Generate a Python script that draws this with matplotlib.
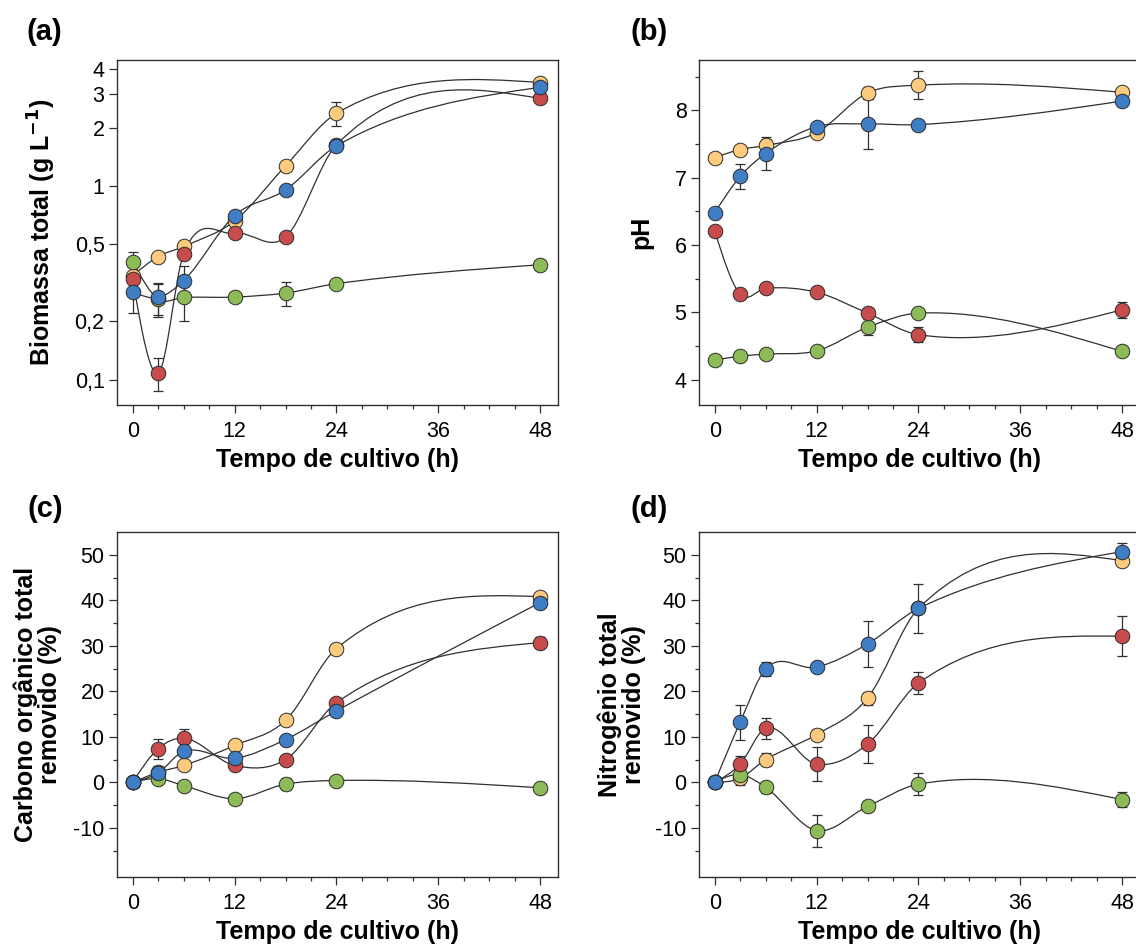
import numpy as np
import matplotlib
matplotlib.use('agg')
from matplotlib import pyplot as plt
from matplotlib.path import Path
from matplotlib.patches import PathPatch
from matplotlib.ticker import MultipleLocator, FixedLocator, FixedFormatter, NullLocator

plt.rcParams['font.family'] = ['Liberation Sans', 'DejaVu Sans']
plt.rcParams['axes.unicode_minus'] = False

# tempo de cultivo (h)
t = [0, 3, 6, 12, 18, 24, 48]

# (a) biomassa total (g/L)
bio_yellow = [0.344, 0.432, 0.487, 0.66, 1.27, 2.37, 3.42]
bio_yellow_err = [0.0, 0.02, 0.015, 0.02, 0.08, 0.33, 0.05]
bio_green = [0.407, 0.261, 0.266, 0.267, 0.280, 0.313, 0.392]
bio_green_err = [0.05, 0.05, 0.065, 0.0, 0.04, 0.0, 0.0]
bio_red = [0.330, 0.108, 0.446, 0.570, 0.544, 1.63, 2.83]
bio_red_err = [0.0, 0.021, 0.0, 0.02, 0.0, 0.0, 0.0]
bio_blue = [0.285, 0.266, 0.324, 0.703, 0.954, 1.61, 3.23]
bio_blue_err = [0.065, 0.05, 0.06, 0.02, 0.0, 0.08, 0.0]

# (b) pH
ph_yellow = [7.30, 7.42, 7.48, 7.67, 8.26, 8.375, 8.27]
ph_yellow_err = [0, 0.03, 0.1, 0.07, 0.09, 0.21, 0.03]
ph_green = [4.29, 4.35, 4.38, 4.43, 4.78, 4.99, 4.42]
ph_green_err = [0.02, 0.03, 0.07, 0.04, 0.12, 0.02, 0.05]
ph_red = [6.21, 5.27, 5.36, 5.30, 4.99, 4.67, 5.04]
ph_red_err = [0, 0.03, 0.04, 0.03, 0.08, 0.11, 0.12]
ph_blue = [6.48, 7.02, 7.36, 7.76, 7.80, 7.79, 8.14]
ph_blue_err = [0, 0.19, 0.24, 0.04, 0.37, 0.06, 0.08]

# (c) carbono organico total removido (%)
cot_yellow = [0, 2.2, 3.7, 8.1, 13.6, 29.4, 40.8]
cot_yellow_err = [0, 0.5, 0.5, 1.0, 0.8, 0.5, 0.5]
cot_green = [0, 0.8, -0.7, -3.6, -0.4, 0.4, -1.2]
cot_green_err = [0, 0.6, 0.5, 0.9, 1.3, 0.5, 0.5]
cot_red = [0, 7.4, 9.7, 3.7, 5.0, 17.5, 30.7]
cot_red_err = [0, 2.2, 2.1, 0.8, 0.6, 0.9, 1.2]
cot_blue = [0, 2.1, 6.8, 5.3, 9.4, 15.7, 39.5]
cot_blue_err = [0, 1.5, 0.5, 0.8, 0.9, 0.8, 1.0]

# (d) nitrogenio total removido (%)
nt_yellow = [0, 0.9, 5.0, 10.5, 18.5, 38.2, 48.7]
nt_yellow_err = [0, 1.5, 1.5, 1.2, 1.4, 0.5, 0.8]
nt_green = [0, 1.7, -1.1, -10.6, -5.3, -0.4, -3.8]
nt_green_err = [0, 1.2, 1.2, 3.5, 0.8, 2.4, 1.6]
nt_red = [0, 4.0, 11.9, 4.0, 8.4, 21.8, 32.1]
nt_red_err = [0, 1.8, 2.3, 3.7, 4.1, 2.5, 4.4]
nt_blue = [0, 13.2, 24.9, 25.3, 30.4, 38.2, 50.7]
nt_blue_err = [0, 3.9, 1.5, 0.8, 5.1, 5.3, 1.8]

C_YELLOW = '#FDCB7E'
C_GREEN = '#8CBB58'
C_RED = '#C84C4C'
C_BLUE = '#3F7DC4'
EDGE = '#2b2b2b'


def spline_path(x, y, log=False):
    # smooth connector: cubic hermite (mean-secant tangents, natural ends) as bezier
    x = np.asarray(x, float)
    y = np.log10(y) if log else np.asarray(y, float)
    n = len(x)
    h = np.diff(x)
    s = np.diff(y) / h
    m = np.zeros(n)
    m[1:-1] = (s[:-1] + s[1:]) / 2
    m[0] = (3 * s[0] - m[1]) / 2
    m[-1] = (3 * s[-1] - m[-2]) / 2
    verts = [(x[0], y[0])]
    codes = [Path.MOVETO]
    for i in range(n - 1):
        verts += [(x[i] + h[i] / 3, y[i] + m[i] * h[i] / 3),
                  (x[i + 1] - h[i] / 3, y[i + 1] - m[i + 1] * h[i] / 3),
                  (x[i + 1], y[i + 1])]
        codes += [Path.CURVE4] * 3
    verts = np.array(verts)
    if log:
        verts[:, 1] = 10 ** verts[:, 1]
    return Path(verts, codes)


def draw_series(ax, y, err, color, z, log=False):
    ax.add_patch(PathPatch(spline_path(t, y, log), fill=False, edgecolor='#303030',
                           lw=0.9, zorder=1))
    ax.errorbar(t, y, yerr=err, fmt='none', ecolor='#303030', elinewidth=0.9,
                capsize=3.5, capthick=0.9, zorder=2)
    ax.plot(t, y, 'o', ms=10.5, mfc=color, mec=EDGE, mew=0.7, zorder=z)


def style_axis(ax):
    ax.set_xlim(-1.85, 50.1)
    ax.xaxis.set_major_locator(FixedLocator([0, 12, 24, 36, 48]))
    ax.xaxis.set_minor_locator(MultipleLocator(3))
    ax.tick_params(axis='both', which='major', direction='out', length=5.5, width=0.9,
                   labelsize=15.5, color='#303030')
    ax.tick_params(axis='x', which='major', pad=6)
    ax.tick_params(axis='both', which='minor', direction='out', length=3, width=0.9,
                   color='#303030')
    for sp in ax.spines.values():
        sp.set_linewidth(1.0)
        sp.set_color('#303030')
    ax.set_xlabel('Tempo de cultivo (h)', fontsize=18, fontweight='bold')
    ax.xaxis.set_label_coords(0.5, -0.16)
    ax.xaxis.label.set_verticalalignment('center')


fig = plt.figure(figsize=(11.36, 9.44), dpi=100)
W, H = 1136, 944
ax_a = fig.add_axes([117 / W, 1 - 405 / H, 441 / W, 345 / H])
ax_b = fig.add_axes([699 / W, 1 - 405 / H, 441 / W, 345 / H])
ax_c = fig.add_axes([117 / W, 1 - 877 / H, 441 / W, 345 / H])
ax_d = fig.add_axes([699 / W, 1 - 877 / H, 441 / W, 345 / H])

# (a)
ax_a.set_yscale('log')
for y, e, c, z in [(bio_yellow, bio_yellow_err, C_YELLOW, 3), (bio_green, bio_green_err, C_GREEN, 4),
                   (bio_red, bio_red_err, C_RED, 5), (bio_blue, bio_blue_err, C_BLUE, 6)]:
    draw_series(ax_a, y, e, c, z, log=True)
ax_a.set_ylim(0.074, 4.47)
ax_a.yaxis.set_major_locator(FixedLocator([0.1, 0.2, 0.5, 1, 2, 3, 4]))
ax_a.yaxis.set_major_formatter(FixedFormatter(['0,1', '0,2', '0,5', '1', '2', '3', '4']))
ax_a.yaxis.set_minor_locator(NullLocator())
style_axis(ax_a)
ax_a.set_ylabel('Biomassa total (g L$\\mathbf{^{-1}}$)', fontsize=18, fontweight='bold')
ax_a.yaxis.set_label_coords(-0.134, 0.5)

# (b)
for y, e, c, z in [(ph_yellow, ph_yellow_err, C_YELLOW, 3), (ph_green, ph_green_err, C_GREEN, 4),
                   (ph_red, ph_red_err, C_RED, 5), (ph_blue, ph_blue_err, C_BLUE, 6)]:
    draw_series(ax_b, y, e, c, z)
ax_b.set_ylim(3.625, 8.75)
ax_b.yaxis.set_major_locator(MultipleLocator(1))
ax_b.yaxis.set_minor_locator(MultipleLocator(0.5))
style_axis(ax_b)
ax_b.set_ylabel('pH', fontsize=18, fontweight='bold')
ax_b.yaxis.set_label_coords(-0.104, 0.5)

# (c)
for y, e, c, z in [(cot_yellow, cot_yellow_err, C_YELLOW, 3), (cot_green, cot_green_err, C_GREEN, 4),
                   (cot_red, cot_red_err, C_RED, 5), (cot_blue, cot_blue_err, C_BLUE, 6)]:
    draw_series(ax_c, y, e, c, z)
ax_c.set_ylim(-20.8, 55)
ax_c.yaxis.set_major_locator(FixedLocator([-10, 0, 10, 20, 30, 40, 50]))
ax_c.yaxis.set_minor_locator(FixedLocator([-15, -5, 5, 15, 25, 35, 45]))
style_axis(ax_c)
ax_c.set_ylabel('Carbono orgânico total\nremovido (%)', fontsize=18, fontweight='bold',
                linespacing=1.0)
ax_c.yaxis.set_label_coords(-0.125, 0.5)

# (d)
for y, e, c, z in [(nt_yellow, nt_yellow_err, C_YELLOW, 3), (nt_green, nt_green_err, C_GREEN, 4),
                   (nt_red, nt_red_err, C_RED, 5), (nt_blue, nt_blue_err, C_BLUE, 6)]:
    draw_series(ax_d, y, e, c, z)
ax_d.set_ylim(-20.8, 55)
ax_d.yaxis.set_major_locator(FixedLocator([-10, 0, 10, 20, 30, 40, 50]))
ax_d.yaxis.set_minor_locator(FixedLocator([-15, -5, 5, 15, 25, 35, 45]))
style_axis(ax_d)
ax_d.set_ylabel('Nitrogênio total\nremovido (%)', fontsize=18, fontweight='bold',
                linespacing=1.0)
ax_d.yaxis.set_label_coords(-0.12, 0.5)

for lab, x, y in [('(a)', 27, 32), ('(b)', 631, 32), ('(c)', 28, 509), ('(d)', 631, 509)]:
    fig.text(x / W, 1 - y / H, lab, fontsize=21, fontweight='bold', ha='left', va='center')

fig.savefig('out.png', dpi=100)
plt.close(fig)
